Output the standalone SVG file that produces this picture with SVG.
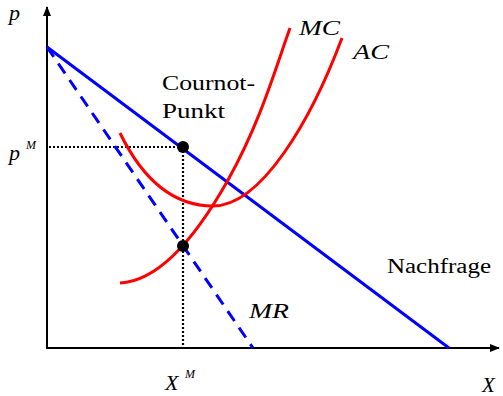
<svg xmlns="http://www.w3.org/2000/svg" width="503" height="396" viewBox="0 0 503 396">
<style>
.ax{stroke:#000;stroke-width:2;fill:none}
.blue{stroke:#0000ff;stroke-width:3;fill:none}
.red{stroke:#ff0000;stroke-width:3;fill:none}
.dot{stroke:#000;stroke-width:2.2;stroke-dasharray:2 2;fill:none}
</style>
<defs>
<marker id="arr" viewBox="0 0 10 10" refX="9" refY="5" markerWidth="10" markerHeight="10" markerUnits="userSpaceOnUse" orient="auto">
<path d="M0,1 L10,5 L0,9 z" fill="#000"/>
</marker>
</defs>
<g id="axes">
<line class="ax" x1="47" y1="349" x2="47" y2="7" marker-end="url(#arr)"/>
<line class="ax" x1="46" y1="348" x2="499" y2="348" marker-end="url(#arr)"/>
</g>
<g id="connectors">
<line class="dot" x1="49" y1="147" x2="183" y2="147"/>
<line class="dot" x1="183" y1="147" x2="183" y2="347"/>
</g>
<g font-family="Liberation Serif, serif" fill="#000">
<g id="demand">
<line class="blue" x1="47" y1="47" x2="449" y2="348"/>
<text x="387" y="273" font-size="20" textLength="104" lengthAdjust="spacingAndGlyphs">Nachfrage</text>
</g>
<g id="mr">
<line class="blue" x1="47" y1="47" x2="253" y2="348" stroke-width="3.5" stroke-dasharray="12 8"/>
<text font-style="italic" x="249" y="318" font-size="21" textLength="40" lengthAdjust="spacingAndGlyphs">MR</text>
</g>
<g id="mc">
<path class="red" d="M120,283 C160,281 196,237 228,180 S275,70 290,28"/>
<text font-style="italic" x="299" y="35" font-size="21" textLength="41" lengthAdjust="spacingAndGlyphs">MC</text>
</g>
<g id="ac">
<path class="red" d="M120,133 C142,178 172,206 213,206 C262,206 312,118 342,38"/>
<text font-style="italic" x="353" y="59" font-size="21" textLength="36" lengthAdjust="spacingAndGlyphs">AC</text>
</g>
<g id="cournot">
<circle cx="183" cy="147" r="6" fill="#000"/>
<circle cx="183" cy="246" r="6" fill="#000"/>
<text x="162" y="90" font-size="20" textLength="93" lengthAdjust="spacingAndGlyphs">Cournot-</text>
<text x="162" y="118" font-size="20" textLength="63" lengthAdjust="spacingAndGlyphs">Punkt</text>
</g>
<g id="labels" font-style="italic">
<text x="9" y="20" font-size="22">p</text>
<text x="9" y="160" font-size="22">p</text>
<text x="26" y="149" font-size="12">M</text>
<text x="165" y="390" font-size="22">X</text>
<text x="185" y="378" font-size="12">M</text>
<text x="482" y="392" font-size="21">X</text>
</g>
</g>
</svg>
